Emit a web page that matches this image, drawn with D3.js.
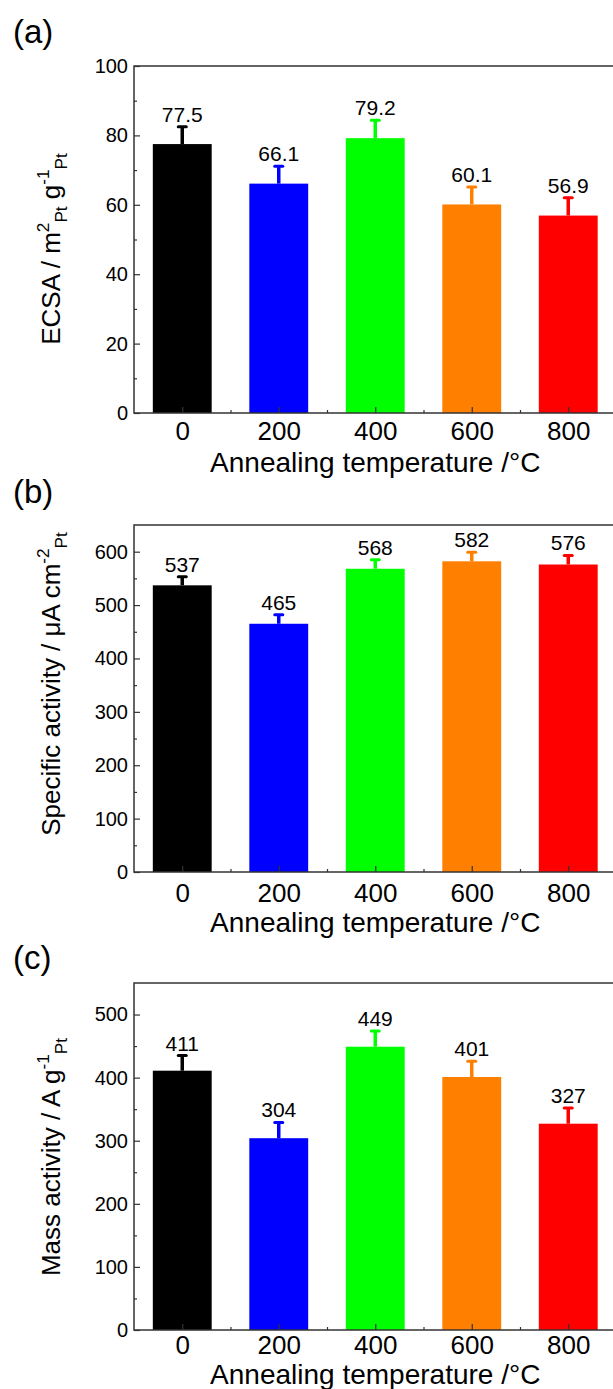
<!DOCTYPE html>
<html>
<head>
<meta charset="utf-8">
<script src="https://cdn.jsdelivr.net/npm/d3@7"></script>
<style>
  html, body { margin: 0; padding: 0; background: #fff; }
  text { font-family: Arial, "Liberation Sans", sans-serif; fill: #000; }
</style>
</head>
<body>
<div class="canvas"></div>
<script>
// podaci
const temps = [0, 200, 400, 600, 800];
const xTickLabels = ['0', '200', '400', '600', '800'];
const xMinorTicks = [100, 300, 500, 700, 900];
const barColours = ['#000000', '#0000ff', '#00ff00', '#ff8000', '#ff0000'];

const ecsaValues = [77.5, 66.1, 79.2, 60.1, 56.9];
const ecsaErrors = [5.0, 5.0, 5.2, 5.0, 5.1];
const ecsaTicks = [0, 20, 40, 60, 80, 100];

const specificValues = [537, 465, 568, 582, 576];
const specificErrors = [16, 17, 17, 17, 17];
const specificTicks = [0, 100, 200, 300, 400, 500, 600];

const massValues = [411, 304, 449, 401, 327];
const massErrors = [24, 25, 25, 25, 25];
const massTicks = [0, 100, 200, 300, 400, 500];

const W = 613, H = 1389;

const svg = d3.select('.canvas')
  .append('svg')
  .attr('width', W)
  .attr('height', H);

// zajednicka x skala (temperatura)
const x = d3.scaleLinear()
  .domain([-100, 1100])
  .range([134, 713]);

const barHalf = 61; // polovica sirine stupca u jedinicama temperature

// tekst s eksponentima i indeksima
const richText = (sel, parts, size) => {
  let cur = 0;
  parts.forEach(([txt, kind]) => {
    const target = kind === 'sup' ? -0.42 * size : kind === 'sub' ? 0.28 * size : 0;
    sel.append('tspan')
      .attr('dy', target - cur)
      .attr('font-size', kind ? size * 0.66 : size)
      .text(txt);
    cur = target;
  });
};

const panels = [
  {
    label: '(a)', values: ecsaValues, errors: ecsaErrors, ticks: ecsaTicks,
    yMax: 100, minorStep: 10, fmt: d3.format('.1f'),
    top: 66, bottom: 413, labelY: 43, tickY: 441, titleY: 472, yTitleCy: 249,
    yTitle: [['ECSA / m', null], ['2', 'sup'], ['Pt', 'sub'], [' g', null], ['-1', 'sup'], ['Pt', 'sub']]
  },
  {
    label: '(b)', values: specificValues, errors: specificErrors, ticks: specificTicks,
    yMax: 650, minorStep: 50, fmt: d3.format('d'),
    top: 525, bottom: 872, labelY: 503, tickY: 903, titleY: 932, yTitleCy: 684,
    yTitle: [['Specific activity / \u03bcA cm', null], ['-2', 'sup'], ['Pt', 'sub']]
  },
  {
    label: '(c)', values: massValues, errors: massErrors, ticks: massTicks,
    yMax: 550, minorStep: 50, fmt: d3.format('d'),
    top: 983, bottom: 1330, labelY: 969, tickY: 1355, titleY: 1384, yTitleCy: 1157,
    yTitle: [['Mass activity / A g', null], ['-1', 'sup'], ['Pt', 'sub']]
  }
];

const drawPanel = (p) => {
  const g = svg.append('g');

  const y = d3.scaleLinear()
    .domain([0, p.yMax])
    .range([p.bottom, p.top]);

  // stupci
  g.selectAll('rect.bar')
    .data(temps)
    .enter()
    .append('rect')
      .attr('class', 'bar')
      .attr('x', d => x(d - barHalf))
      .attr('width', d => x(d + barHalf) - x(d - barHalf))
      .attr('y', (d, i) => y(p.values[i]))
      .attr('height', (d, i) => y(0) - y(p.values[i]))
      .attr('fill', (d, i) => barColours[i]);

  // error barovi (samo prema gore)
  g.selectAll('line.stem')
    .data(temps)
    .enter()
    .append('line')
      .attr('x1', d => x(d))
      .attr('x2', d => x(d))
      .attr('y1', (d, i) => y(p.values[i]))
      .attr('y2', (d, i) => y(p.values[i] + p.errors[i]))
      .attr('stroke', (d, i) => barColours[i])
      .attr('stroke-width', 3.5);

  g.selectAll('line.cap')
    .data(temps)
    .enter()
    .append('line')
      .attr('x1', d => x(d) - 4)
      .attr('x2', d => x(d) + 4)
      .attr('y1', (d, i) => y(p.values[i] + p.errors[i]))
      .attr('y2', (d, i) => y(p.values[i] + p.errors[i]))
      .attr('stroke', (d, i) => barColours[i])
      .attr('stroke-width', 3)
      .attr('stroke-linecap', 'round');

  // vrijednosti iznad stupaca
  g.selectAll('text.val')
    .data(temps)
    .enter()
    .append('text')
      .attr('x', d => x(d))
      .attr('y', (d, i) => y(p.values[i] + p.errors[i]) - 5)
      .attr('text-anchor', 'middle')
      .attr('font-size', 21)
      .text((d, i) => p.fmt(p.values[i]));

  // x os - glavne i sporedne crtice prema unutra
  const xAxis = g.append('g')
    .attr('transform', `translate(0, ${p.bottom})`)
    .call(d3.axisBottom(x).tickValues(temps).tickSize(-6).tickPadding(p.tickY - p.bottom - 19)
      .tickFormat((d, i) => xTickLabels[i]));
  xAxis.select('.domain').remove();
  xAxis.selectAll('line').attr('stroke', '#333').attr('stroke-width', 1.2);
  xAxis.selectAll('text').attr('font-size', 26).attr('font-family', 'Arial, "Liberation Sans", sans-serif').attr('fill', '#000');

  const xMinor = g.append('g')
    .attr('transform', `translate(0, ${p.bottom})`)
    .call(d3.axisBottom(x).tickValues(xMinorTicks).tickSize(-3).tickFormat(''));
  xMinor.select('.domain').remove();
  xMinor.selectAll('line').attr('stroke', '#333').attr('stroke-width', 1.2);

  // y os
  const yAxis = g.append('g')
    .attr('transform', `translate(${x(-100)}, 0)`)
    .call(d3.axisLeft(y).tickValues(p.ticks).tickSize(-6).tickPadding(6));
  yAxis.select('.domain').remove();
  yAxis.selectAll('line').attr('stroke', '#333').attr('stroke-width', 1.2);
  yAxis.selectAll('text').attr('font-size', 20).attr('font-family', 'Arial, "Liberation Sans", sans-serif').attr('fill', '#000');

  const minorY = d3.range(p.minorStep, p.yMax, p.minorStep).filter(v => !p.ticks.includes(v));
  const yMinor = g.append('g')
    .attr('transform', `translate(${x(-100)}, 0)`)
    .call(d3.axisLeft(y).tickValues(minorY).tickSize(-3).tickFormat(''));
  yMinor.select('.domain').remove();
  yMinor.selectAll('line').attr('stroke', '#333').attr('stroke-width', 1.2);

  // okvir
  g.append('rect')
    .attr('x', x(-100))
    .attr('y', p.top)
    .attr('width', x(1100) - x(-100))
    .attr('height', p.bottom - p.top)
    .attr('fill', 'none')
    .attr('stroke', '#333')
    .attr('stroke-width', 1.5);

  // naslov x osi
  g.append('text')
    .attr('x', x(400))
    .attr('y', p.titleY)
    .attr('text-anchor', 'middle')
    .attr('font-size', 28)
    .text('Annealing temperature /\u00b0C');

  // naslov y osi
  const yt = g.append('text')
    .attr('transform', `translate(60, ${p.yTitleCy}) rotate(-90)`)
    .attr('text-anchor', 'middle')
    .style('white-space', 'pre');
  richText(yt, p.yTitle, 26);

  // oznaka panela
  g.append('text')
    .attr('x', 13)
    .attr('y', p.labelY)
    .attr('font-size', 33)
    .text(p.label);
};

panels.forEach(drawPanel);
</script>
</body>
</html>
